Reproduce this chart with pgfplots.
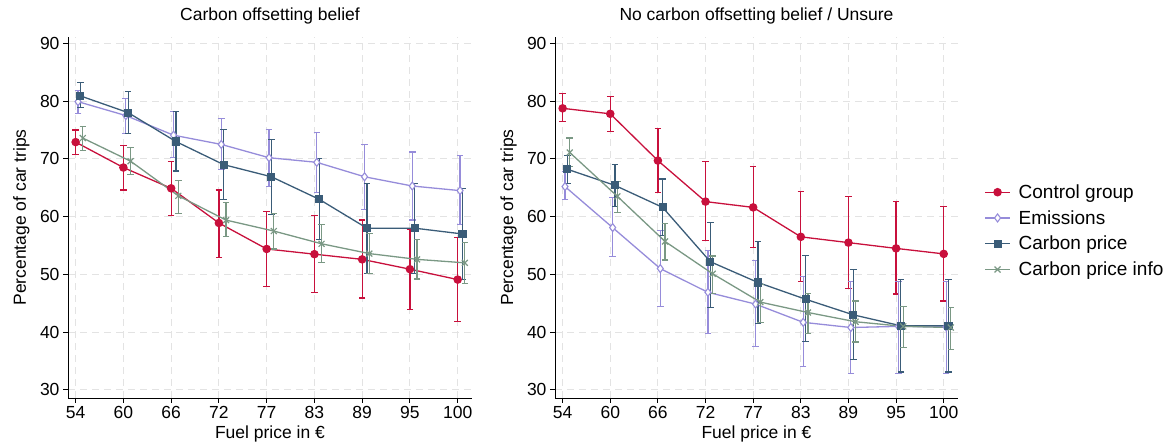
\documentclass[border=0pt]{standalone}
\usepackage{fontspec}
\setmainfont{Liberation Sans}
\usepackage{pgfplots}
\usepackage{pgfplotstable}
\pgfplotsset{compat=1.18}
\newcommand{\tsz}{\fontsize{17.5pt}{21pt}\selectfont}
\newcommand{\lsz}{\fontsize{19pt}{22pt}\selectfont}
\definecolor{cctrl}{RGB}{200,16,60}
\definecolor{cemis}{RGB}{150,140,218}
\definecolor{ccp}{RGB}{58,92,120}
\definecolor{cinfo}{RGB}{122,152,132}

% columns: i (category index), y (estimate), lo, hi (confidence interval)
\pgfplotstableread{
i y lo hi
0 72.9 70.7 75.0
1 68.5 64.6 72.3
2 64.9 60.2 69.6
3 58.9 52.9 64.6
4 54.4 47.9 60.9
5 53.5 46.9 60.2
6 52.6 45.9 59.4
7 50.9 43.9 57.8
8 49.1 41.8 56.4
}\ctrlL
\pgfplotstableread{
i y lo hi
0 79.9 77.8 81.9
1 77.5 74.4 80.5
2 74.1 70.3 78.2
3 72.5 68.2 77.0
4 70.2 65.2 75.1
5 69.4 64.2 74.5
6 66.9 61.3 72.5
7 65.3 59.4 71.2
8 64.5 58.6 70.6
}\emisL
\pgfplotstableread{
i y lo hi
0 80.9 78.9 83.2
1 78.0 74.4 81.6
2 73.0 67.9 78.2
3 69.0 62.9 75.1
4 66.9 60.4 73.4
5 63.0 56.0 70.0
6 58.0 50.2 65.7
7 58.0 50.2 65.7
8 57.0 49.1 64.8
}\cpL
\pgfplotstableread{
i y lo hi
0 73.6 71.4 75.6
1 69.6 67.3 72.0
2 63.6 60.6 66.2
3 59.4 56.5 62.4
4 57.5 54.4 60.6
5 55.3 52.0 58.6
6 53.6 50.2 57.1
7 52.6 49.2 56.1
8 52.0 48.4 55.5
}\infoL
\pgfplotstableread{
i y lo hi
0 78.75 76.4 81.3
1 77.8 74.8 80.8
2 69.7 64.2 75.3
3 62.6 55.8 69.5
4 61.6 54.6 68.7
5 56.5 48.8 64.3
6 55.5 47.6 63.5
7 54.5 46.6 62.6
8 53.55 45.4 61.7
}\ctrlR
\pgfplotstableread{
i y lo hi
0 65.2 62.9 67.8
1 58.1 53.1 63.3
2 51.0 44.4 57.6
3 46.9 39.7 54.1
4 44.85 37.5 52.4
5 41.7 34.0 49.6
6 40.8 32.9 48.8
7 41.0 32.9 48.8
8 40.9 32.9 48.8
}\emisR
\pgfplotstableread{
i y lo hi
0 68.2 65.8 70.55
1 65.4 61.7 69.0
2 61.6 56.8 66.5
3 52.2 44.2 59.0
4 48.6 41.5 55.7
5 45.7 38.4 53.3
6 43.0 35.2 50.8
7 41.1 33.1 49.05
8 41.1 33.1 49.05
}\cpR
\pgfplotstableread{
i y lo hi
0 71.1 68.7 73.6
1 63.5 60.7 66.1
2 55.7 52.5 58.85
3 50.1 46.75 53.2
4 45.2 41.65 48.3
5 43.4 39.8 46.75
6 41.8 38.3 45.4
7 41.0 37.3 44.5
8 40.8 37.05 44.2
}\infoR

\pgfplotsset{
  panel/.style={
    scale only axis, height=361pt,
    xmin=-0.16, xmax=8.3, ymin=28.6, ymax=91.1,
    xtick={0,...,8},
    xticklabels={54,60,66,72,77,83,89,95,100},
    ytick={30,40,...,90},
    axis x line*=bottom, axis y line*=left,
    axis line style={-, black, line width=0.9pt},
    tick align=outside, major tick length=5pt,
    tick style={black, line width=0.9pt},
    /pgf/number format/assume math mode=true,
    ticklabel style={font=\tsz},
    label style={font=\tsz},
    title style={font=\tsz, at={(axis description cs:0.5,1.028)}, anchor=base},
    xlabel style={at={(axis description cs:0.5,-0.113)}, anchor=base},
    grid=major,
    major grid style={gray!22, line width=0.9pt, dash pattern=on 7pt off 5pt},
    xlabel={Fuel price in €},
    ylabel={Percentage of car trips},
    error bars/y dir=both, error bars/y explicit,
    error bars/error mark options={rotate=90, mark size=3.3pt, line width=1.2pt},
    error bars/error bar style={line width=1.2pt},
    legend image code/.code={\draw[mark repeat=2,mark phase=2,#1] plot coordinates {(0pt,0pt) (12.5pt,0pt) (25pt,0pt)};},
  },
  sctrl/.style={cctrl, line width=1.3pt, mark=*, mark size=3.6pt, mark options={solid, fill=cctrl}},
  semis/.style={cemis, line width=1.3pt, mark=diamond*, mark size=4pt, mark options={solid, fill=white, line width=1.1pt}},
  scp/.style={ccp, line width=1.3pt, mark=square*, mark size=3.4pt, mark options={solid, fill=ccp}},
  sinfo/.style={cinfo, line width=1.3pt, mark=x, mark size=4.2pt, mark options={solid, line width=1.2pt}},
}

\begin{document}
\begin{tikzpicture}
\useasboundingbox (0,0) rectangle (1167pt,446pt);
\begin{axis}[panel, at={(68pt,48pt)}, width=404pt,
  title={Carbon offsetting belief},
  ylabel style={at={(axis description cs:-0.104,0.5)}, anchor=base}]
\addplot[sctrl] table[x=i, y=y, y error plus expr=\thisrow{hi}-\thisrow{y}, y error minus expr=\thisrow{y}-\thisrow{lo}] {\ctrlL};
\addplot[semis] table[x expr=\thisrow{i}+0.05, y=y, y error plus expr=\thisrow{hi}-\thisrow{y}, y error minus expr=\thisrow{y}-\thisrow{lo}] {\emisL};
\addplot[scp] table[x expr=\thisrow{i}+0.1, y=y, y error plus expr=\thisrow{hi}-\thisrow{y}, y error minus expr=\thisrow{y}-\thisrow{lo}] {\cpL};
\addplot[sinfo] table[x expr=\thisrow{i}+0.15, y=y, y error plus expr=\thisrow{hi}-\thisrow{y}, y error minus expr=\thisrow{y}-\thisrow{lo}] {\infoL};
\end{axis}
\begin{axis}[panel, at={(555pt,48pt)}, width=403pt,
  title={No carbon offsetting belief / Unsure},
  ylabel style={at={(axis description cs:-0.104,0.5)}, anchor=base},
  legend style={draw=none, fill=none, at={(1.065,0.463)}, anchor=west, font=\lsz, row sep=6.5pt, inner sep=0pt,
    /tikz/every odd column/.append style={column sep=6pt}},
  legend cell align=left]
\addplot[sctrl] table[x=i, y=y, y error plus expr=\thisrow{hi}-\thisrow{y}, y error minus expr=\thisrow{y}-\thisrow{lo}] {\ctrlR};
\addlegendentry{Control group}
\addplot[semis] table[x expr=\thisrow{i}+0.05, y=y, y error plus expr=\thisrow{hi}-\thisrow{y}, y error minus expr=\thisrow{y}-\thisrow{lo}] {\emisR};
\addlegendentry{Emissions}
\addplot[scp] table[x expr=\thisrow{i}+0.1, y=y, y error plus expr=\thisrow{hi}-\thisrow{y}, y error minus expr=\thisrow{y}-\thisrow{lo}] {\cpR};
\addlegendentry{Carbon price}
\addplot[sinfo] table[x expr=\thisrow{i}+0.15, y=y, y error plus expr=\thisrow{hi}-\thisrow{y}, y error minus expr=\thisrow{y}-\thisrow{lo}] {\infoR};
\addlegendentry{Carbon price info}
\end{axis}
\end{tikzpicture}
\end{document}
